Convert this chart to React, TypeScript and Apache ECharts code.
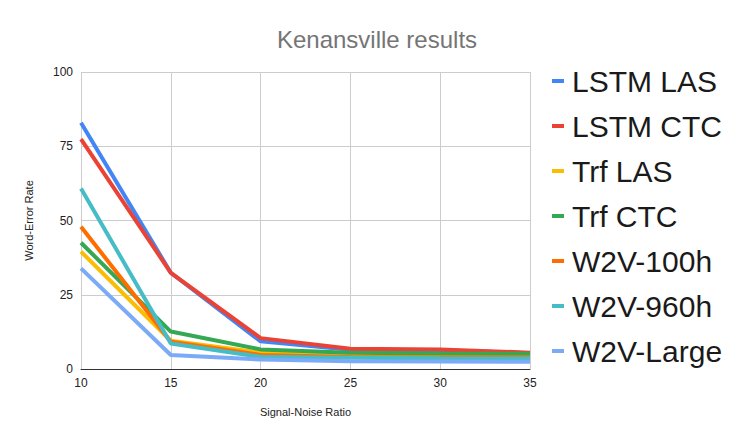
import React, { useEffect, useRef } from "react";
import * as echarts from "echarts";

const snr = [10, 15, 20, 25, 30, 35];
const seriesNames = ["LSTM LAS", "LSTM CTC", "Trf LAS", "Trf CTC", "W2V-100h", "W2V-960h", "W2V-Large"];
const lstmLas = [82.9, 32.4, 9.3, 6.5, 6.3, 5.3];
const lstmCtc = [77.4, 32.4, 10.4, 6.8, 6.6, 5.5];
const trfLas = [39.5, 9.5, 5.5, 4.4, 4.3, 4.3];
const trfCtc = [42.5, 12.6, 6.6, 5.5, 5.2, 5.1];
const w2v100h = [47.9, 9.2, 4.7, 4.0, 3.9, 3.9];
const w2v960h = [60.8, 8.6, 4.1, 3.8, 3.6, 3.5];
const w2vLarge = [33.9, 4.7, 3.2, 2.6, 2.5, 2.4];
const colors = ["#4285F4", "#EA4335", "#FBBC04", "#34A853", "#FF6D01", "#46BDC6", "#7BAAF7"];

export default function App() {
  const ref = useRef<HTMLDivElement>(null);
  useEffect(() => {
    const chart = echarts.init(ref.current!, null, { renderer: "svg" });
    const all = [lstmLas, lstmCtc, trfLas, trfCtc, w2v100h, w2v960h, w2vLarge];
    const font = "Liberation Sans, Arial, sans-serif";
    chart.setOption({
      animation: false,
      color: colors,
      textStyle: { fontFamily: font },
      title: {
        text: "Kenansville results",
        left: 364,
        textAlign: "center",
        top: 14,
        textStyle: { color: "#757575", fontSize: 24, fontWeight: "normal", fontFamily: font },
      },
      grid: { left: 73, right: 208, top: 64, bottom: 67 },
      legend: {
        orient: "vertical",
        left: 539,
        top: 53,
        itemWidth: 12,
        itemHeight: 4,
        itemGap: 15,
        icon: "rect",
        data: seriesNames,
        textStyle: { fontSize: 30, color: "#1a1a1a", fontFamily: font, padding: [0, 0, 0, 3] },
      },
      xAxis: {
        type: "value",
        min: 10,
        max: 35,
        interval: 5,
        name: "Signal-Noise Ratio",
        nameLocation: "middle",
        nameGap: 37,
        nameTextStyle: { fontSize: 11, color: "#222" },
        axisLine: { show: true, lineStyle: { color: "#333", width: 1 } },
        axisTick: { show: false },
        axisLabel: { fontSize: 12, color: "#222", margin: 8 },
        splitLine: { show: true, lineStyle: { color: "#cccccc" } },
      },
      yAxis: {
        type: "value",
        min: 0,
        max: 100,
        interval: 25,
        name: "Word-Error Rate",
        nameLocation: "middle",
        nameGap: 47,
        nameTextStyle: { fontSize: 11, color: "#222" },
        axisLine: { show: false },
        axisTick: { show: false },
        axisLabel: { fontSize: 12, color: "#222", margin: 8 },
        splitLine: { show: true, lineStyle: { color: "#cccccc" } },
      },
      series: seriesNames.map((name, i) => ({
        name,
        type: "line",
        data: snr.map((x, j) => [x, all[i][j]]),
        showSymbol: false,
        symbol: "none",
        lineStyle: { width: 4 },
        itemStyle: { color: colors[i] },
      })),
    });
    return () => chart.dispose();
  }, []);
  return <div ref={ref} style={{ width: 730, height: 428 }} />;
}
